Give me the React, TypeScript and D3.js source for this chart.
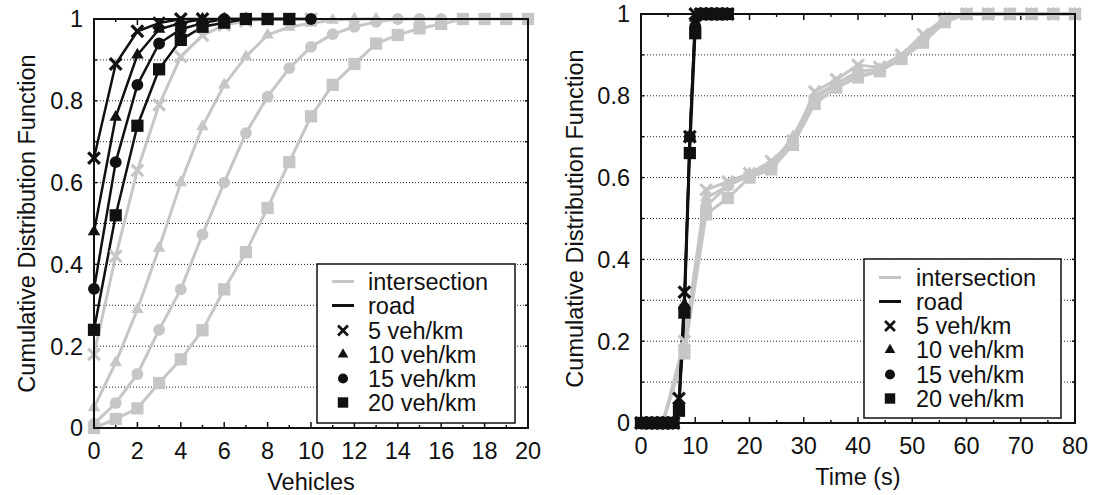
import React from "react";
import * as d3 from "d3";

// ---------- Left panel data (Vehicles) ----------
const leftInt5 = [0.18, 0.42, 0.63, 0.79, 0.908, 0.96, 0.985, 0.995, 1, 1, 1];
const leftInt10 = [0.05, 0.16, 0.29, 0.44, 0.6, 0.737, 0.839, 0.908, 0.961, 0.98, 0.99, 0.997, 1, 1];
const leftInt15 = [0.01, 0.061, 0.132, 0.24, 0.339, 0.473, 0.6, 0.721, 0.81, 0.88, 0.932, 0.963, 0.981, 0.993, 1, 1, 1];
const leftInt20 = [0.0, 0.022, 0.048, 0.11, 0.168, 0.239, 0.339, 0.43, 0.538, 0.65, 0.762, 0.839, 0.89, 0.94, 0.961, 0.977, 0.988, 1, 1, 1, 1];
const leftRoad5 = [0.66, 0.89, 0.97, 0.99, 1, 1];
const leftRoad10 = [0.48, 0.76, 0.912, 0.975, 0.99, 1, 1, 1];
const leftRoad15 = [0.34, 0.65, 0.839, 0.94, 0.975, 0.99, 1, 1, 1, 1, 1];
const leftRoad20 = [0.24, 0.52, 0.739, 0.877, 0.949, 0.981, 0.991, 1, 1, 1];

// ---------- Right panel data (Time) ----------
const intTimes = [0, 4, 8, 12, 16, 20, 24, 28, 32, 36, 40, 44, 48, 52, 56, 60, 64, 68, 72, 76, 80];
const rightInt5 = [0, 0, 0.2, 0.57, 0.59, 0.61, 0.64, 0.69, 0.81, 0.84, 0.875, 0.87, 0.9, 0.95, 0.99, 1, 1, 1, 1, 1, 1];
const rightInt10 = [0, 0, 0.18, 0.55, 0.58, 0.61, 0.63, 0.7, 0.8, 0.83, 0.86, 0.865, 0.89, 0.94, 0.99, 1, 1, 1, 1, 1, 1];
const rightInt15 = [0, 0, 0.18, 0.53, 0.58, 0.605, 0.63, 0.69, 0.79, 0.83, 0.85, 0.86, 0.89, 0.93, 0.99, 1, 1, 1, 1, 1, 1];
const rightInt20 = [0, 0, 0.17, 0.51, 0.55, 0.6, 0.62, 0.68, 0.78, 0.82, 0.845, 0.86, 0.89, 0.93, 0.98, 1, 1, 1, 1, 1, 1];
const roadTimes = [0, 1, 2, 3, 4, 5, 6, 7, 8, 9, 10, 11, 12, 13, 14, 15, 16];
const rightRoad5 = [0, 0, 0, 0, 0, 0, 0, 0.06, 0.32, 0.7, 1, 1, 1, 1, 1, 1, 1];
const rightRoad10 = [0, 0, 0, 0, 0, 0, 0, 0.05, 0.29, 0.7, 0.99, 1, 1, 1, 1, 1, 1];
const rightRoad15 = [0, 0, 0, 0, 0, 0, 0, 0.04, 0.28, 0.7, 0.97, 1, 1, 1, 1, 1, 1];
const rightRoad20 = [0, 0, 0, 0, 0, 0, 0, 0.03, 0.27, 0.66, 0.953, 1, 1, 1, 1, 1, 1];

const legendLabels = ["intersection", "road", "5 veh/km", "10 veh/km", "15 veh/km", "20 veh/km"];
const yTickLabels = ["0", "0.2", "0.4", "0.6", "0.8", "1"];

const GRAY = "#c6c6c6";
const BLACK = "#111111";
const FONT = "'Liberation Sans', Arial, Helvetica, sans-serif";

type Shape = "x" | "tri" | "circ" | "sq";
const shapes: Shape[] = ["x", "tri", "circ", "sq"];

function Marker({ shape, x, y, color, scale = 1 }: { shape: Shape; x: number; y: number; color: string; scale?: number }) {
  if (shape === "x") {
    const h = 5.8 * scale;
    return (
      <g stroke={color} strokeWidth={3.2 * scale} strokeLinecap="butt">
        <line x1={x - h} y1={y - h} x2={x + h} y2={y + h} />
        <line x1={x - h} y1={y + h} x2={x + h} y2={y - h} />
      </g>
    );
  }
  const type = shape === "tri" ? d3.symbolTriangle : shape === "circ" ? d3.symbolCircle : d3.symbolSquare;
  const size = (shape === "tri" ? 68 : shape === "circ" ? 110 : 150) * scale * scale;
  const p = d3.symbol().type(type).size(size)() || "";
  return <path d={p} transform={`translate(${x},${y})`} fill={color} />;
}

type Series = { xs: number[]; ys: number[]; color: string; shape: Shape; width: number };

function Panel(props: {
  x0: number; x1: number; yTop: number; yBot: number;
  xDomain: [number, number]; xMajor: number[]; xMinor: number[];
  series: Series[]; xTitle: string; yTitleX: number;
  legend: { left: number; top: number; right: number; bottom: number; rows: number[]; symX: number; textX: number };
}) {
  const { x0, x1, yTop, yBot, xDomain, xMajor, xMinor, series, xTitle, yTitleX, legend } = props;
  const xs = d3.scaleLinear().domain(xDomain).range([x0, x1]);
  const ys = d3.scaleLinear().domain([0, 1]).range([yBot, yTop]);
  const yGrid = d3.range(1, 10).map((d) => d / 10);
  const yMajor = d3.range(0, 6).map((d) => d / 5);
  const line = d3.line<[number, number]>().x((d) => xs(d[0])).y((d) => ys(d[1]));
  const fs = 23.5;
  return (
    <g fontFamily={FONT}>
      {/* grid */}
      {yGrid.map((g) => (
        <line key={"g" + g} x1={x0} x2={x1} y1={ys(g)} y2={ys(g)} stroke="#222" strokeWidth={1} strokeDasharray="1,2" />
      ))}
      {/* ticks */}
      {xMajor.map((t) => (
        <g key={"xm" + t}>
          <line x1={xs(t)} x2={xs(t)} y1={yBot} y2={yBot - 6} stroke={BLACK} strokeWidth={1.5} />
          <line x1={xs(t)} x2={xs(t)} y1={yTop} y2={yTop + 6} stroke={BLACK} strokeWidth={1.5} />
          <text x={xs(t)} y={yBot + 31} fontSize={fs} textAnchor="middle" fill={BLACK}>{t}</text>
        </g>
      ))}
      {xMinor.map((t) => (
        <g key={"xn" + t}>
          <line x1={xs(t)} x2={xs(t)} y1={yBot} y2={yBot - 3} stroke={BLACK} strokeWidth={1.5} />
          <line x1={xs(t)} x2={xs(t)} y1={yTop} y2={yTop + 3} stroke={BLACK} strokeWidth={1.5} />
        </g>
      ))}
      {yGrid.map((t) => (
        <g key={"yt" + t}>
          <line x1={x0} x2={x0 + 3} y1={ys(t)} y2={ys(t)} stroke={BLACK} strokeWidth={1.5} />
          <line x1={x1} x2={x1 - 3} y1={ys(t)} y2={ys(t)} stroke={BLACK} strokeWidth={1.5} />
        </g>
      ))}
      {yMajor.map((t, i) => (
        <text key={"yl" + t} x={x0 - 11} y={ys(t)} dy="0.36em" fontSize={fs} textAnchor="end" fill={BLACK}>{yTickLabels[i]}</text>
      ))}
      {/* series lines */}
      {series.map((s, i) => (
        <path key={"l" + i} d={line(s.xs.map((x, j) => [x, s.ys[j]] as [number, number])) || ""} fill="none" stroke={s.color} strokeWidth={s.width} strokeLinejoin="round" />
      ))}
      {/* markers */}
      {series.map((s, i) => (
        <g key={"m" + i}>
          {s.ys.map((v, j) => (
            <Marker key={j} shape={s.shape} x={xs(s.xs[j])} y={ys(v)} color={s.color} />
          ))}
        </g>
      ))}
      {/* frame */}
      <rect x={x0} y={yTop} width={x1 - x0} height={yBot - yTop} fill="none" stroke={BLACK} strokeWidth={2} />
      {/* titles */}
      <text x={(x0 + x1) / 2} y={yBot + 62} fontSize={fs} textAnchor="middle" fill={BLACK}>{xTitle}</text>
      <text transform={`translate(${yTitleX},${(yTop + yBot) / 2}) rotate(-90)`} fontSize={fs} textAnchor="middle" dy="0.36em" fill={BLACK}>Cumulative Distribution Function</text>
      {/* legend */}
      <rect x={legend.left} y={legend.top} width={legend.right - legend.left} height={legend.bottom - legend.top} fill="#fff" stroke={BLACK} strokeWidth={1.5} />
      {legendLabels.map((lab, i) => {
        const cy = legend.rows[i];
        let sym: React.ReactNode = null;
        if (i === 0) sym = <line x1={legend.symX - 11} x2={legend.symX + 11} y1={cy} y2={cy} stroke={GRAY} strokeWidth={3} />;
        else if (i === 1) sym = <line x1={legend.symX - 11} x2={legend.symX + 11} y1={cy} y2={cy} stroke={BLACK} strokeWidth={3} />;
        else sym = <Marker shape={shapes[i - 2]} x={legend.symX} y={cy} color={BLACK} scale={0.85} />;
        return (
          <g key={"lg" + i}>
            {sym}
            <text x={legend.textX} y={cy} dy="0.36em" fontSize={fs} fill={BLACK}>{lab}</text>
          </g>
        );
      })}
    </g>
  );
}

const idx = (arr: number[]) => arr.map((_, i) => i);

export default function App() {
  const leftSeries: Series[] = [
    { xs: idx(leftInt5), ys: leftInt5, color: GRAY, shape: "x", width: 3 },
    { xs: idx(leftInt10), ys: leftInt10, color: GRAY, shape: "tri", width: 3 },
    { xs: idx(leftInt15), ys: leftInt15, color: GRAY, shape: "circ", width: 3 },
    { xs: idx(leftInt20), ys: leftInt20, color: GRAY, shape: "sq", width: 3 },
    { xs: idx(leftRoad5), ys: leftRoad5, color: BLACK, shape: "x", width: 2.5 },
    { xs: idx(leftRoad10), ys: leftRoad10, color: BLACK, shape: "tri", width: 2.5 },
    { xs: idx(leftRoad15), ys: leftRoad15, color: BLACK, shape: "circ", width: 2.5 },
    { xs: idx(leftRoad20), ys: leftRoad20, color: BLACK, shape: "sq", width: 2.5 },
  ];
  const rightSeries: Series[] = [
    { xs: intTimes, ys: rightInt5, color: GRAY, shape: "x", width: 3 },
    { xs: intTimes, ys: rightInt10, color: GRAY, shape: "tri", width: 3 },
    { xs: intTimes, ys: rightInt15, color: GRAY, shape: "circ", width: 3 },
    { xs: intTimes, ys: rightInt20, color: GRAY, shape: "sq", width: 3 },
    { xs: roadTimes, ys: rightRoad5, color: BLACK, shape: "x", width: 2.5 },
    { xs: roadTimes, ys: rightRoad10, color: BLACK, shape: "tri", width: 2.5 },
    { xs: roadTimes, ys: rightRoad15, color: BLACK, shape: "circ", width: 2.5 },
    { xs: roadTimes, ys: rightRoad20, color: BLACK, shape: "sq", width: 2.5 },
  ];
  return (
    <svg width={1101} height={495} style={{ position: "absolute", left: 0, top: 0, background: "#fff" }}>
      <rect x={0} y={0} width={1101} height={495} fill="#fff" />
      <Panel
        x0={94} x1={528} yTop={19} yBot={428}
        xDomain={[0, 20]}
        xMajor={d3.range(0, 21, 2)} xMinor={d3.range(1, 20, 2)}
        series={leftSeries} xTitle="Vehicles" yTitleX={27}
        legend={{ left: 317, top: 264, right: 515, bottom: 423, rows: [281.5, 305.5, 330.5, 354.5, 378.5, 402.5], symX: 343, textX: 368 }}
      />
      <Panel
        x0={641} x1={1075} yTop={14} yBot={423}
        xDomain={[0, 80]}
        xMajor={d3.range(0, 81, 10)} xMinor={d3.range(5, 80, 10)}
        series={rightSeries} xTitle="Time (s)" yTitleX={575}
        legend={{ left: 864, top: 259, right: 1061, bottom: 418, rows: [277.5, 301.5, 326, 350, 374.5, 398.5], symX: 890, textX: 916 }}
      />
    </svg>
  );
}
